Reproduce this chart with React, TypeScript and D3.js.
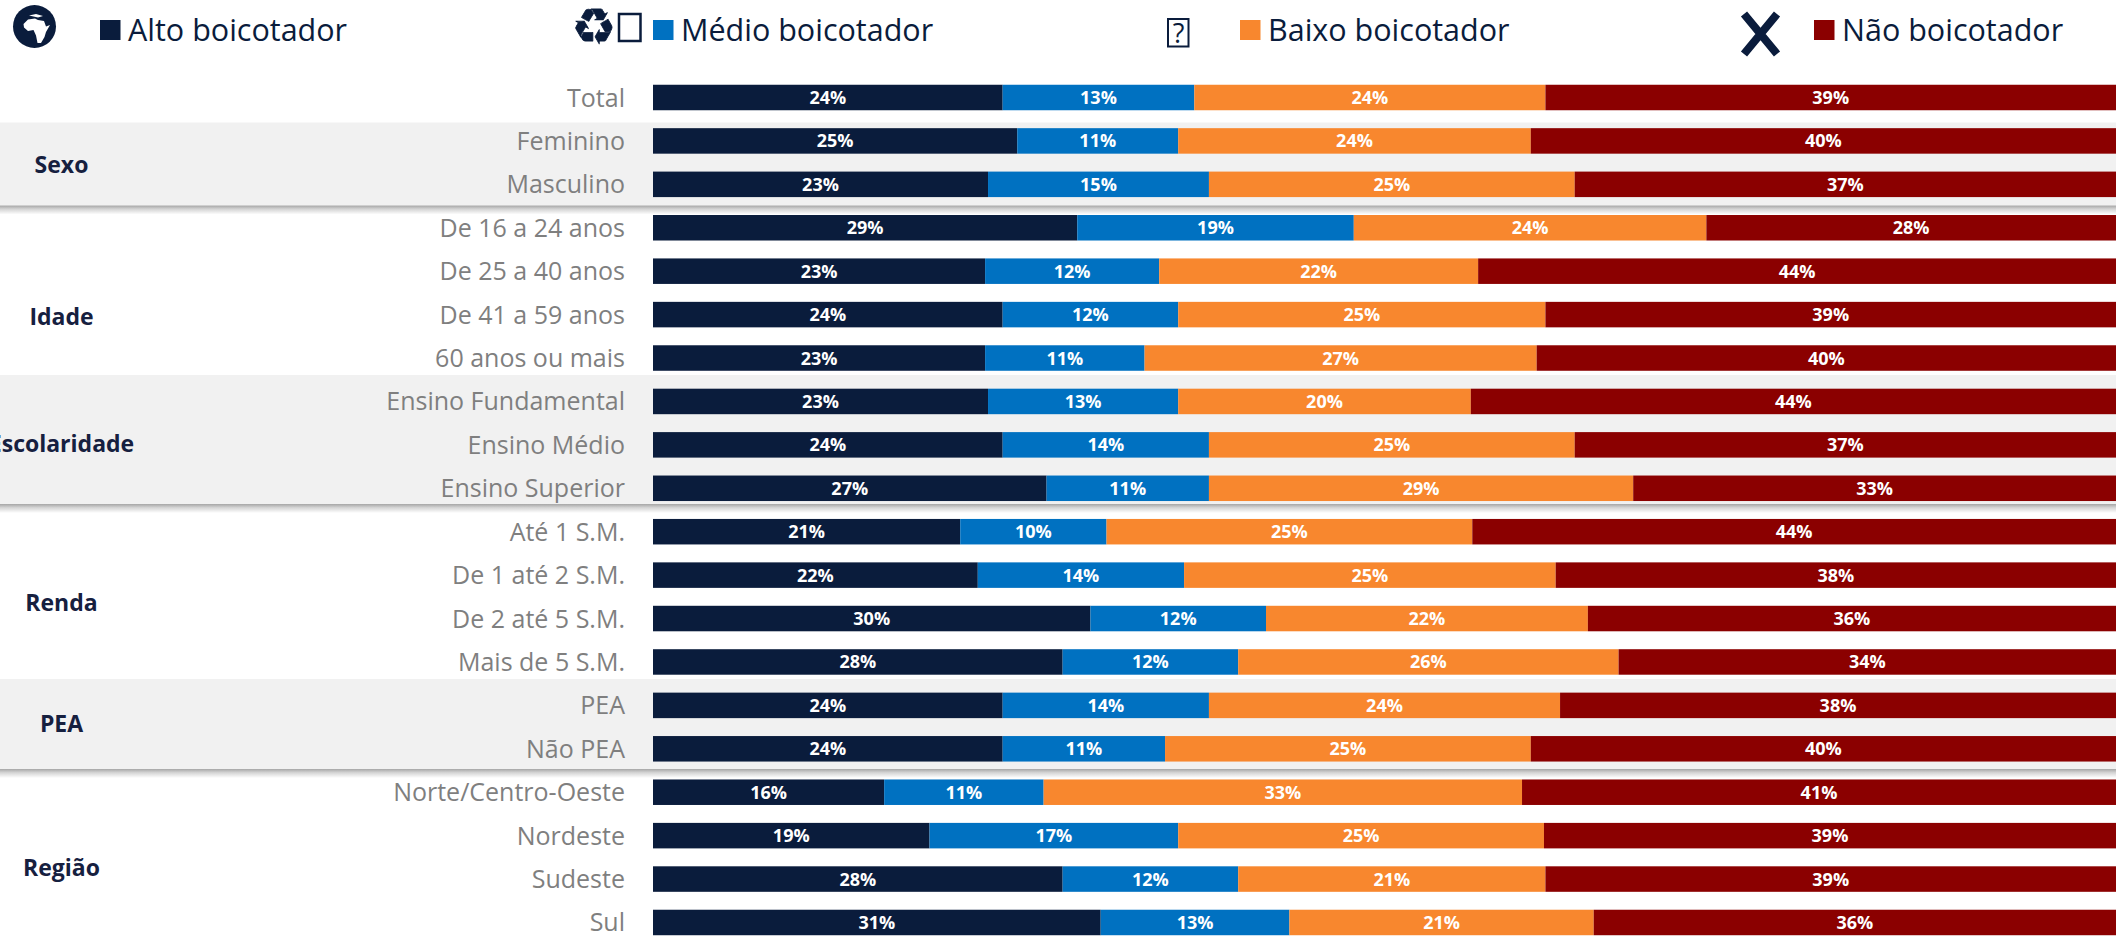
import React from "react";
import * as d3 from "d3";

const seriesNames = ["Alto boicotador", "Médio boicotador", "Baixo boicotador", "Não boicotador"];
const seriesColors = ["#0a1c3c", "#0071c1", "#f8872e", "#8b0000"];
const rowLabels = ["Total","Feminino","Masculino","De 16 a 24 anos","De 25 a 40 anos","De 41 a 59 anos","60 anos ou mais","Ensino Fundamental","Ensino Médio","Ensino Superior","Até 1 S.M.","De 1 até 2 S.M.","De 2 até 5 S.M.","Mais de 5 S.M.","PEA","Não PEA","Norte/Centro-Oeste","Nordeste","Sudeste","Sul"];
const alto = [23.9,24.9,22.9,29,22.7,23.9,22.7,22.9,23.9,26.9,21,22.2,29.9,28,23.9,23.9,15.8,18.9,28,30.6];
const medio = [13.1,11,15.1,18.9,11.9,12,10.9,13,14.1,11.1,10,14.1,12,12,14.1,11.1,10.9,17,12,12.9];
const baixo = [24,24.1,25,24.1,21.8,25.1,26.8,20,25,29,25,25.4,22,26,24,25,32.7,25,21,20.8];
const nao = [39,40,37,28,43.6,39,39.6,44.1,37,33,44,38.3,36.1,34,38,40,40.6,39.1,39,35.7];
const groupNames = ["Sexo","Idade","Escolaridade","Renda","PEA","Região"];
const groupCenters = [165, 317, 444, 603, 724, 868];
const shadedBands = [[122.5,205.5],[375,504],[679,769]];

const W = 2116, H = 936;
const FONT = "'Open Sans','Noto Sans',sans-serif";
const x = d3.scaleLinear().domain([0,100]).range([653,2116]);
const step = 43.42, barH = 25.5;
const y = d3.scaleBand<string>().domain(rowLabels)
  .range([97.5-step/2, 97.5-step/2+step*rowLabels.length])
  .paddingInner(1-barH/step).paddingOuter((1-barH/step)/2);
const stackData = rowLabels.map((r,i)=>({r,a:alto[i],m:medio[i],b:baixo[i],n:nao[i]}));
const stacked = d3.stack<any>().keys(["a","m","b","n"])(stackData);
const legendSquareX = [100,653,1240,1814];

export default function App(){
  const navy = seriesColors[0];
  return (
    <svg width={W} height={H} viewBox={`0 0 ${W} ${H}`} style={{position:"absolute",left:0,top:0,display:"block",fontFamily:FONT}}>
      <defs>
        <linearGradient id="sh" x1="0" y1="0" x2="0" y2="1">
          <stop offset="0" stopColor="#a6a6a6"/>
          <stop offset="0.4" stopColor="#d4d4d4"/>
          <stop offset="1" stopColor="#ffffff"/>
        </linearGradient>
      </defs>
      <rect width={W} height={H} fill="#fff"/>
      {shadedBands.map(([a,b],i)=>(
        <g key={i}>
          <rect x={0} y={a} width={W} height={b-a} fill="#f1f1f1"/>
          <rect x={0} y={b} width={W} height={9} fill="url(#sh)"/>
        </g>
      ))}
      {/* legend icons */}
      <g>
        <circle cx={34.5} cy={26.5} r={21.5} fill={navy}/>
        <path d="M23.5 24 L28 19.5 L35 18.5 L38 20 L44 21 L46 26.5 L50 25 L46 32 L44.5 37 L41 43 L37.5 43 L36 35.5 L33.5 30 L28 31 L24 27.5 Z" fill="#fff"/>
        <path d="M29 15.5 L36 14 L43 16 L38 17.5 Z" fill="#fff"/>
        <text x={594} y={30} fontFamily="'DejaVu Sans'" fontSize={50} stroke={navy} strokeWidth={0.8} fill={navy} textAnchor="middle" dominantBaseline="middle">♻</text>
        <rect x={619} y={14} width={21.5} height={27} fill="#fff" stroke={navy} strokeWidth={2.5}/>
        <rect x={1168} y={19} width={20.5} height={27.5} fill="#fff" stroke={navy} strokeWidth={2}/>
        <text x={1178.5} y={43} fontSize={27} fill={navy} textAnchor="middle">?</text>
        <path d="M1744 14 L1777 54 M1777 14 L1744 54" stroke={navy} strokeWidth={8} fill="none"/>
      </g>
      {seriesNames.map((s,i)=>(
        <g key={s}>
          <rect x={legendSquareX[i]} y={20} width={20.5} height={20} fill={seriesColors[i]}/>
          <text x={legendSquareX[i]+28} y={41} fontSize={30.5} fill={navy}>{s}</text>
        </g>
      ))}
      {/* row labels */}
      {rowLabels.map(r=>(
        <text key={r} x={625} y={y(r)!+barH/2+9} textAnchor="end" fontSize={25} fill="#7f7f7f">{r}</text>
      ))}
      {groupNames.map((g,i)=>(
        <text key={g} x={61.5} y={groupCenters[i]+8} textAnchor="middle" fontSize={23} fontWeight={700} fill="#16203f">{g}</text>
      ))}
      {/* bars */}
      {stacked.map((layer,k)=>(
        <g key={layer.key}>
          {layer.map((d:any)=>{
            const r=d.data.r;
            const x0=x(d[0]), x1=Math.min(x(d[1]),W);
            return (
              <g key={r}>
                <rect x={x0} y={y(r)} width={x1-x0} height={barH} fill={seriesColors[k]}/>
                <text x={(x0+x1)/2} y={y(r)!+barH/2+6.5} textAnchor="middle" fontSize={18} fontWeight={700} fill="#fff">{Math.round(d[1]-d[0])}%</text>
              </g>
            );
          })}
        </g>
      ))}
    </svg>
  );
}
